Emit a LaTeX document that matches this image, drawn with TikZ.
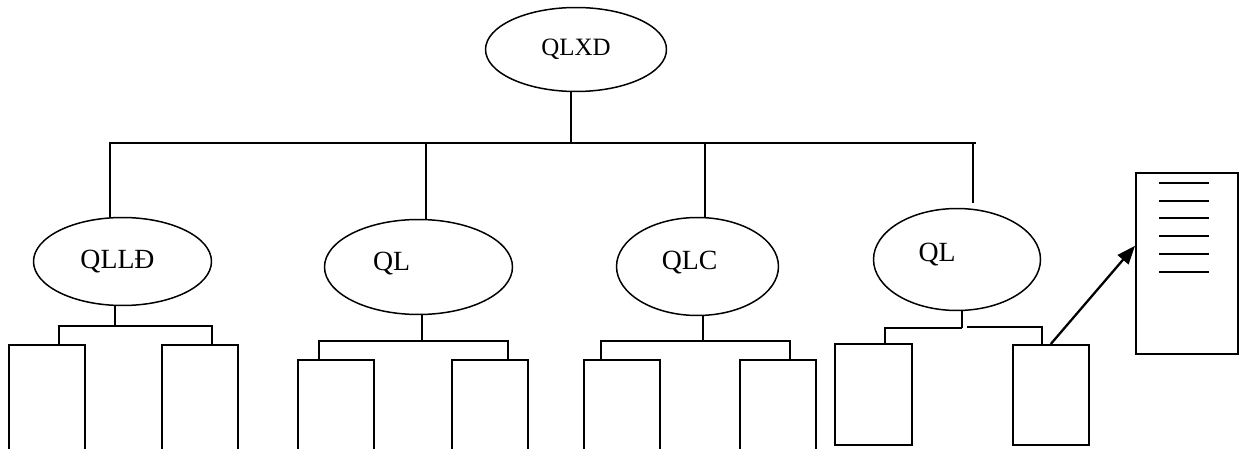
\documentclass[tikz,border=0pt]{standalone}
\usepackage{fontspec}
\setmainfont{Liberation Serif}
\usetikzlibrary{shapes.geometric,arrows.meta}

\tikzset{
  unit/.style={draw, ellipse, line width=0.85pt, inner sep=0pt},
  lbl/.style={font=\fontsize{15.8}{18}\selectfont},
  leaf/.style={draw, rectangle, line width=0.9pt, anchor=north west,
    minimum width=1.52cm, minimum height=2.52cm, inner sep=0pt},
  wire/.style={line width=0.9pt},
}

\begin{document}
\begin{tikzpicture}[x=0.02cm, y=-0.02cm]
  \useasboundingbox (0,0) rectangle (1243,449);
  \clip (0,0) rectangle (1243,449);

  %% top unit
  \node[unit, minimum width=3.62cm, minimum height=1.68cm,
    font=\fontsize{14.2}{16}\selectfont] (qlxd) at (576,49.5) {QLXD};

  %% second level
  \node[unit, minimum width=3.56cm, minimum height=1.76cm,
    label={[lbl, xshift=-0.1cm]center:QLLĐ}] (qlld) at (122.5,261.5) {};
  \node[unit, minimum width=3.76cm, minimum height=1.90cm,
    label={[lbl, xshift=-0.54cm, yshift=0.06cm]center:QL}] (ql1) at (418.5,267) {};
  \node[unit, minimum width=3.24cm, minimum height=1.96cm,
    label={[lbl, xshift=-0.16cm, yshift=0.08cm]center:QLC}] (qlc) at (697.5,266.5) {};
  \node[unit, minimum width=3.34cm, minimum height=2.04cm,
    label={[lbl, xshift=-0.4cm, yshift=0.09cm]center:QL}] (ql2) at (957,259.5) {};

  %% leaves
  \node[leaf] (l1) at (8,344) {};
  \node[leaf] (r1) at (161,344) {};
  \node[leaf] (l2) at (297,359) {};
  \node[leaf] (r2) at (451,359) {};
  \node[leaf] (l3) at (583,359) {};
  \node[leaf] (r3) at (739,359) {};
  \node[leaf, minimum width=1.54cm, minimum height=2.02cm] (l4) at (834,343) {};
  \node[leaf, minimum height=2.0cm] (r4) at (1012,344) {};

  %% report sheet
  \node[leaf, minimum width=2.04cm, minimum height=3.62cm] (doc) at (1135,172) {};
  \foreach \y in {183,201,218,236,254,272}
    \draw[line width=1.1pt] (1159,\y) -- (1209,\y);

  %% main bus
  \coordinate (gap) at (973,203);
  \draw[wire] (571,0 |- qlxd.south) -- (571,143);
  \draw[wire] (110,0 |- qlld.north) -- (110,143) -- (976,143);
  \draw[wire] (426,143) -- (426,0 |- ql1.north);
  \draw[wire] (705,143) -- (705,0 |- qlc.north);
  \draw[wire] (973,143) -- (gap);

  %% QLLD
  \draw[wire] (115,0 |- qlld.south) -- (115,326);
  \draw[wire] (59,0 |- l1.north) |- (212,326) -- (212,0 |- r1.north);

  %% QL
  \draw[wire] (422,0 |- ql1.south) -- (422,341);
  \draw[wire] (319,0 |- l2.north) |- (508,341) -- (508,0 |- r2.north);

  %% QLC
  \draw[wire] (703,0 |- qlc.south) -- (703,341);
  \draw[wire] (601,0 |- l3.north) |- (790,341) -- (790,0 |- r3.north);

  %% QL (right)
  \draw[wire] (962,0 |- ql2.south) -- (962,328);
  \draw[wire] (885,0 |- l4.north) |- (962,328);
  \draw[wire] (967,327) -| (1042,0 |- r4.north);
  \draw[line width=1.3pt, -{Triangle[length=10.5pt, width=8pt]}]
    (r4.north) -- ([yshift=0.35cm]doc.west);

\end{tikzpicture}
\end{document}
